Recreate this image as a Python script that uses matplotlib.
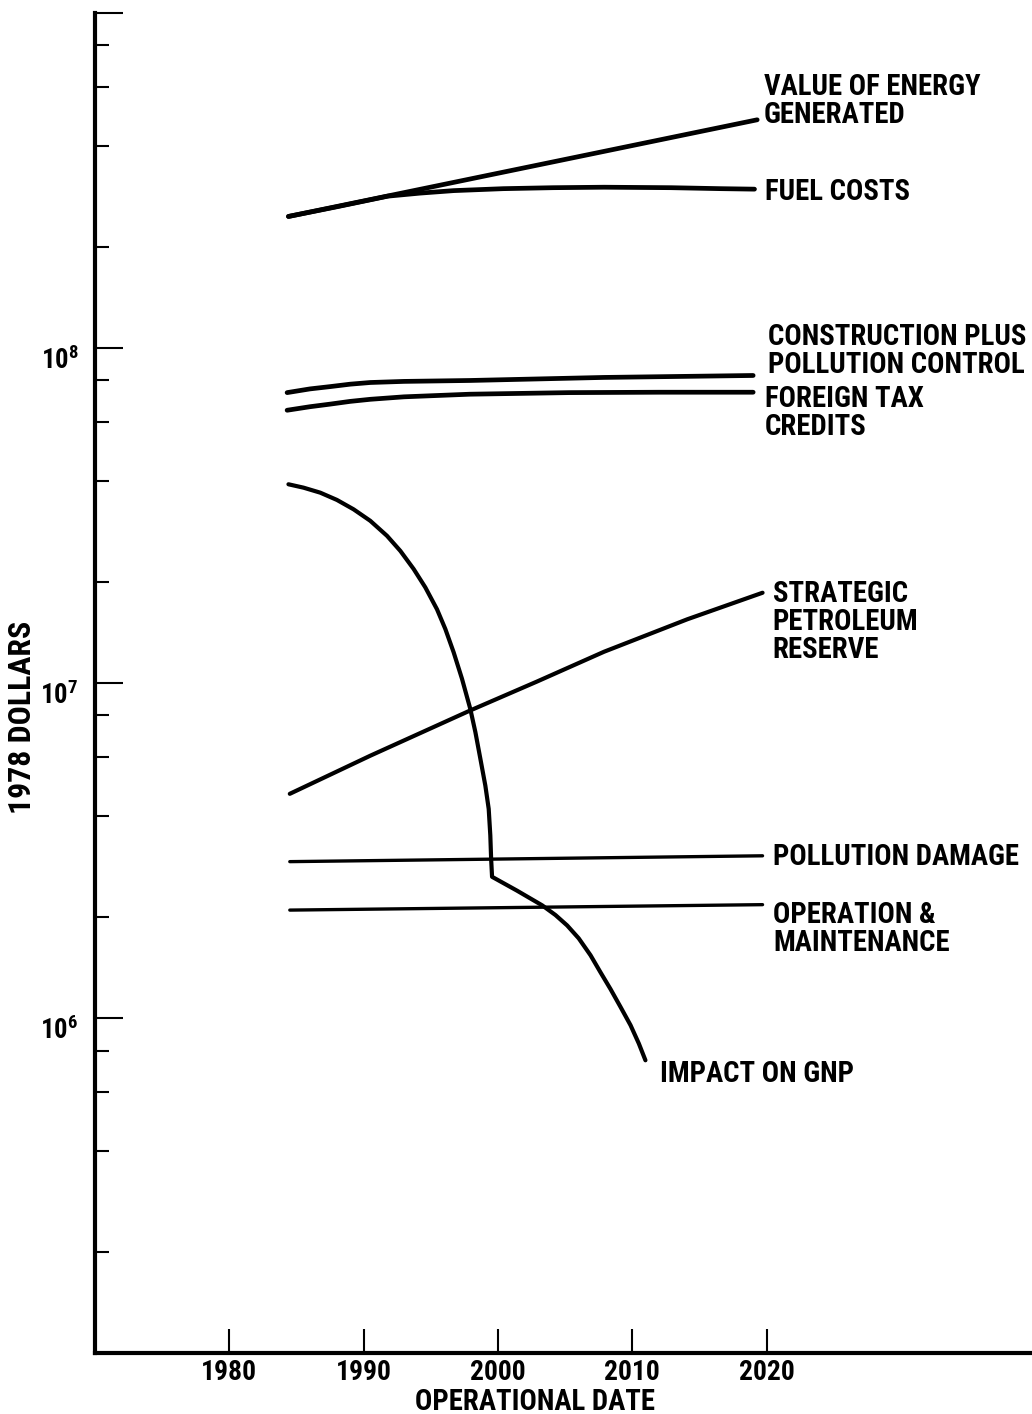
import matplotlib
matplotlib.use('Agg')
import matplotlib.pyplot as plt
from matplotlib import font_manager
from matplotlib.ticker import FixedLocator, NullFormatter


def pick_font():
    # the lettering is a narrow sans; take the narrowest family we have
    entries = font_manager.fontManager.ttflist
    names = {f.name for f in entries}
    for name in ['Liberation Sans Narrow', 'Roboto Condensed', 'Open Sans Condensed',
                 'DejaVu Sans Condensed']:
        if name in names:
            return name, 'normal'
    for f in entries:
        if f.name in ('DejaVu Sans', 'Roboto', 'Open Sans', 'Noto Sans') and \
                str(f.stretch) in ('condensed', 'semi-condensed', 'extra-condensed'):
            return f.name, str(f.stretch)
    return 'Liberation Sans', 'normal'


font_name, font_stretch = pick_font()
plt.rcParams['font.family'] = [font_name, 'DejaVu Sans']
plt.rcParams['font.stretch'] = font_stretch
plt.rcParams['font.weight'] = 'bold'
plt.rcParams['mathtext.default'] = 'regular'

# data (operational year, 1978 dollars)
value_years = [1984.4, 2019.3]
value_energy = [2.47e8, 4.8e8]

fuel_years = [1984.4, 1988.0, 1991.8, 1994.2, 1996.7, 2000.4, 2004.1, 2007.9, 2012.9, 2016.6, 2019.1]
fuel_costs = [2.47e8, 2.64e8, 2.84e8, 2.90e8, 2.95e8, 2.99e8, 3.01e8, 3.02e8, 3.01e8, 2.99e8, 2.98e8]

constr_years = [1984.3, 1986.0, 1987.5, 1989.0, 1990.5, 1993.0, 1997.9, 2007.9, 2019.0]
construction = [7.36e7, 7.55e7, 7.67e7, 7.80e7, 7.89e7, 7.95e7, 8.0e7, 8.17e7, 8.28e7]

foreign_years = [1984.3, 1986.0, 1987.5, 1989.0, 1990.5, 1993.0, 1997.9, 2005.3, 2012.0, 2019.0]
foreign_tax = [6.52e7, 6.68e7, 6.80e7, 6.93e7, 7.03e7, 7.15e7, 7.28e7, 7.36e7, 7.38e7, 7.38e7]

spr_years = [1984.5, 1990.5, 1997.9, 2002.9, 2007.9, 2014.1, 2019.7]
spr = [4.67e6, 6.07e6, 8.27e6, 1.01e7, 1.24e7, 1.55e7, 1.86e7]

flat_years = [1984.5, 2019.7]
pollution_damage = [2.93e6, 3.05e6]
operation_maint = [2.10e6, 2.18e6]

gnp_years = [1984.40, 1985.52, 1986.77, 1988.01, 1989.25, 1990.49, 1991.74, 1992.73,
             1993.72, 1994.59, 1995.46, 1996.08, 1996.70, 1997.32, 1997.94, 1998.32,
             1998.69, 1999.06, 1999.31, 1999.43, 1999.49, 1999.56,
             2001.42, 2003.29, 2004.28, 2005.15, 2006.01, 2006.89, 2007.63, 2008.38,
             2009.12, 2009.87, 2010.49, 2010.98]
gnp_impact = [3.92e7, 3.83e7, 3.70e7, 3.52e7, 3.30e7, 3.05e7, 2.75e7, 2.48e7,
              2.19e7, 1.93e7, 1.66e7, 1.45e7, 1.235e7, 1.03e7, 8.37e6, 7.13e6,
              5.94e6, 4.94e6, 4.21e6, 3.51e6, 2.99e6, 2.64e6,
              2.40e6, 2.17e6, 2.03e6, 1.89e6, 1.73e6, 1.54e6, 1.37e6, 1.22e6,
              1.08e6, 9.52e5, 8.39e5, 7.48e5]

x_ticks = [1980, 1990, 2000, 2010, 2020]
decades = [1e6, 1e7, 1e8]
decade_labels = ['$10^6$', '$10^7$', '$10^8$']
minor_ticks = [m * 10 ** e for e in range(5, 9) for m in (2, 4, 6, 8)]

# curve labels: text, left x (year), centre y (dollars)
labels = [
    ('VALUE OF ENERGY\nGENERATED', 2019.8, 5.47e8),
    ('FUEL COSTS', 2019.9, 2.93e8),
    ('CONSTRUCTION PLUS\nPOLLUTION CONTROL', 2020.1, 9.77e7),
    ('FOREIGN TAX\nCREDITS', 2019.85, 6.4e7),
    ('STRATEGIC\nPETROLEUM\nRESERVE', 2020.45, 1.52e7),
    ('POLLUTION DAMAGE', 2020.5, 3.03e6),
    ('OPERATION &\nMAINTENANCE', 2020.5, 1.84e6),
    ('IMPACT ON GNP', 2012.1, 6.8e5),
]

fig = plt.figure(figsize=(10.32, 14.14), dpi=100)
renderer = fig.canvas.get_renderer()


def fit_size(text, width_px, base=20):
    t = fig.text(0, 0, text, fontsize=base)
    w = t.get_window_extent(renderer).width
    t.remove()
    return base * width_px / w


label_size = fit_size('CONSTRUCTION PLUS', 258)
tick_size = fit_size('1980', 56)
xlabel_size = fit_size('OPERATIONAL DATE', 240)
ylabel_size = fit_size('1978 DOLLARS', 193)
exp_size = fit_size('10', 27)

ax = fig.add_axes([0.0921, 0.0431, 0.911, 0.9477])
ax.set_yscale('log')
ax.set_xlim(1970, 2040)
ax.set_ylim(1e5, 1e9)

kw = dict(color='black', solid_capstyle='round', solid_joinstyle='round')
ax.plot(value_years, value_energy, lw=3.4, **kw)
ax.plot(fuel_years, fuel_costs, lw=3.4, **kw)
ax.plot(constr_years, construction, lw=3.4, **kw)
ax.plot(foreign_years, foreign_tax, lw=3.4, **kw)
ax.plot(spr_years, spr, lw=3.0, **kw)
ax.plot(flat_years, pollution_damage, lw=2.4, **kw)
ax.plot(flat_years, operation_maint, lw=2.4, **kw)
ax.plot(gnp_years, gnp_impact, lw=3.0, **kw)

for text, x, y in labels:
    ax.text(x, y, text, ha='left', va='center', fontsize=label_size, linespacing=1.0)

for s in ['top', 'right']:
    ax.spines[s].set_visible(False)
for s in ['left', 'bottom']:
    ax.spines[s].set_linewidth(3)

ax.set_xticks(x_ticks)
ax.set_xticklabels([str(t) for t in x_ticks])
ax.tick_params(axis='x', direction='in', length=17, width=1.5, pad=4, labelsize=tick_size)

ax.yaxis.set_major_locator(FixedLocator(decades + [1e9]))
ax.yaxis.set_minor_locator(FixedLocator(minor_ticks))
ax.yaxis.set_minor_formatter(NullFormatter())
ax.tick_params(axis='y', which='major', direction='in', length=20, width=1.5, labelleft=False)
ax.tick_params(axis='y', which='minor', direction='in', length=10, width=1.5)

for val, lab in zip(decades, decade_labels):
    ax.annotate(lab, xy=(0, val), xycoords=('axes fraction', 'data'),
                xytext=(-12, -9), textcoords='offset points',
                ha='right', va='center', fontsize=exp_size)

fig.text(22 / 1032, 1 - 717 / 1414, '1978 DOLLARS', rotation=90,
         ha='center', va='center', fontsize=ylabel_size)
fig.text(535 / 1032, 1 - 1402 / 1414, 'OPERATIONAL DATE',
         ha='center', va='center', fontsize=xlabel_size)

fig.savefig('out.png', dpi=100)
